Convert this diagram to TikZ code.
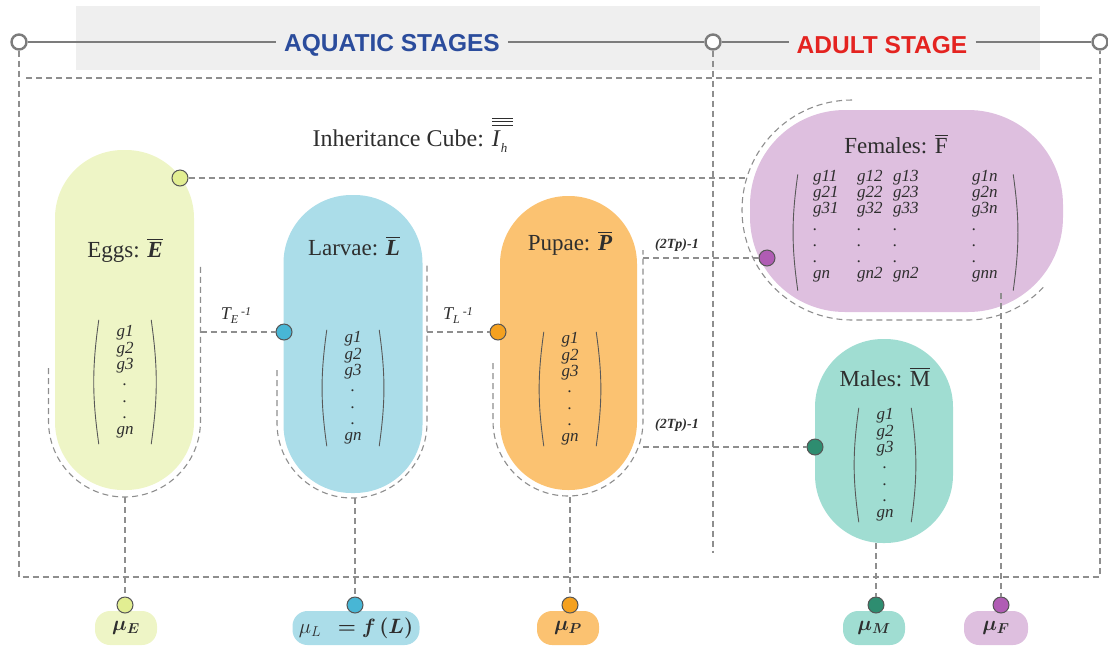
\documentclass[tikz,border=0pt]{standalone}
\usepackage{amsmath}
\usepackage{bm}
\usepackage{fontspec}
\setmainfont{Liberation Serif}
\newfontfamily\headfont{Liberation Sans}
\usetikzlibrary{calc}

\definecolor{bandgray}{HTML}{EFEFEF}
\definecolor{linegray}{HTML}{7C7C7C}
\definecolor{dashgray}{HTML}{8E8E8E}
\definecolor{ringgray}{HTML}{555555}
\definecolor{aquablue}{HTML}{2B4C9C}
\definecolor{adultred}{HTML}{E42320}
\definecolor{eggfill}{HTML}{EEF5C6}
\definecolor{eggdot}{HTML}{E2EE92}
\definecolor{larfill}{HTML}{ABDDE9}
\definecolor{lardot}{HTML}{48B6D5}
\definecolor{pupfill}{HTML}{FBC271}
\definecolor{pupdot}{HTML}{F5A11F}
\definecolor{femfill}{HTML}{DEBFDF}
\definecolor{femdot}{HTML}{B05CB4}
\definecolor{malfill}{HTML}{A0DDD2}
\definecolor{maldot}{HTML}{2E8D70}
\definecolor{inkdark}{HTML}{2E2E2E}

% three stacked bars over an italic letter
\newcommand\tribar[1]{\makebox[0pt][l]{\raisebox{21pt}{\rule{21pt}{0.9pt}}}%
  \makebox[0pt][l]{\raisebox{24.5pt}{\rule{21pt}{0.9pt}}}%
  \makebox[0pt][l]{\raisebox{28pt}{\rule{21pt}{0.9pt}}}\textit{#1}}

\begin{document}
\begin{tikzpicture}[x=1pt,y=-1pt,
  dashline/.style={draw=dashgray, line width=1.1pt, dash pattern=on 6pt off 4pt},
  headline/.style={draw=linegray, line width=1.8pt},
  headring/.style={circle, draw=linegray, line width=2.4pt, fill=white, minimum size=15pt, inner sep=0pt},
  stagebox/.style={inner sep=0pt, rounded corners=68pt, minimum width=139pt},
  title/.style={inner sep=0pt, text=inkdark, font=\fontsize{23}{26}\selectfont},
  colvec/.style={inner sep=0pt, align=center, minimum width=52pt, text=inkdark,
    font=\fontsize{17}{16.3}\selectfont\itshape},
  femcol/.style={inner sep=0pt, align=left, anchor=north west, text=inkdark,
    font=\fontsize{17}{16.2}\selectfont\itshape},
  paren/.style={draw=inkdark!80, line width=0.9pt},
  dot/.style={circle, draw=ringgray, line width=1pt, minimum size=16pt, inner sep=0pt},
  ratebox/.style={rounded corners=15pt, minimum height=34pt, inner sep=4pt, text=inkdark,
    font=\fontsize{22}{24}\selectfont},
  edgelabel/.style={inner sep=0pt, text=inkdark},
]
\useasboundingbox (0,0) rectangle (1108,649);

% ---- header band with the two stage headings ----
\fill[bandgray] (76,6) rectangle (1040,70);
\node[headring] (h1) at (19,42) {};
\node[headring] (h2) at (713,42) {};
\node[headring] (h3) at (1100,42) {};
\node[inner sep=8pt, text=aquablue, font=\headfont\bfseries\fontsize{24.5}{28}\selectfont] (aqua) at (392,45) {AQUATIC STAGES};
\node[inner sep=8pt, text=adultred, font=\headfont\bfseries\fontsize{24.5}{28}\selectfont] (adult) at (882,45) {ADULT STAGE};
\draw[headline] (h1) -- (h1 -| aqua.west);
\draw[headline] (h2 -| aqua.east) -- (h2);
\draw[headline] (h2) -- (h2 -| adult.west);
\draw[headline] (h3 -| adult.east) -- (h3);

% ---- dashed frame ----
\coordinate (fl) at (19,577);
\coordinate (fr) at (1100,577);
\coordinate (mid) at (713,553);
\draw[dashline] (h1.south) -- (fl) -- (fr) -- (h3.south);
\draw[dashline] (26,78) -- (1094,78);
\draw[dashline] (h2.south) -- (mid);

% ---- stage capsules ----
\node[stagebox, fill=eggfill, minimum height=340pt] (eggs) at (124.5,320) {};
\node[stagebox, fill=larfill, minimum height=298pt] (larvae) at (353,344) {};
\node[stagebox, fill=pupfill, minimum height=294pt, minimum width=137pt] (pupae) at (568.5,343) {};
\node[stagebox, fill=malfill, minimum height=204pt, minimum width=138pt] (males) at (884,441) {};
\node[inner sep=0pt, rounded corners=95pt, fill=femfill, minimum width=313pt, minimum height=202pt] (females) at (906.5,211) {};

% dashed outlines hugging the capsules
\draw[dashline] (48.5,368) -- (48.5,421) arc[start angle=180, end angle=360, radius=76pt] -- (200.5,265);
\draw[dashline] (277,370) -- (277,423) arc[start angle=180, end angle=360, radius=75pt] -- (427,265);
\draw[dashline] (493,363) -- (493,421) arc[start angle=180, end angle=360, radius=75pt] -- (643,250);
\draw[dashline] (852,100) arc[start angle=90, end angle=270, radius=110pt] -- (968,320)
  arc[start angle=270, end angle=318, radius=103pt];

% ---- titles ----
\node[inner sep=0pt, text=inkdark, font=\fontsize{24}{28}\selectfont] (cube) at (410,135)
  {Inheritance Cube: \tribar{I}\raisebox{-6pt}{\fontsize{13}{14}\selectfont\textit{h}}};
\node[title] (eggsT) at (125,250) {Eggs: $\overline{\textbf{\textit{E}}}$};
\node[title] (larT) at (354,246) {Larvae: $\overline{\textbf{\textit{L}}}$};
\node[title] (pupT) at (570,243) {Pupae: $\overline{\textbf{\textit{P}}}$};
\node[title] (femT) at (896,144) {Females: $\overline{\mbox{F}}$};
\node[title] (malT) at (885,377) {Males: $\overline{\mbox{M}}$};

% ---- gene vectors ----
\node[colvec, minimum height=124pt] (eggsV) at (125,382) {g1\\g2\\g3\\.\\.\\.\\gn};
\node[colvec, minimum height=116pt] (larV) at (353,388) {g1\\g2\\g3\\.\\.\\.\\gn};
\node[colvec, minimum height=114pt] (pupV) at (570,389) {g1\\g2\\g3\\.\\.\\.\\gn};
\node[colvec, minimum height=114pt] (malV) at (885,465) {g1\\g2\\g3\\.\\.\\.\\gn};
\foreach \v in {eggsV,larV,pupV,malV}{
  \draw[paren] (\v.north west) to[bend right=8] (\v.south west);
  \draw[paren] (\v.north east) to[bend left=8] (\v.south east);
}

% gene matrix of the females
\node[femcol] (fc1) at (813,170) {g11\\g21\\g31\\.\\.\\.\\gn};
\node[femcol] (fc2) at (857,170) {g12\\g22\\g32\\.\\.\\.\\gn2};
\node[femcol] (fc3) at (893,170) {g13\\g23\\g33\\.\\.\\.\\gn2};
\node[femcol] (fc4) at (972,170) {g1n\\g2n\\g3n\\.\\.\\.\\gnn};
\node[inner sep=0pt, minimum width=215pt, minimum height=116pt] (femM) at (905.5,232.5) {};
\draw[paren] (femM.north west) to[bend right=8] (femM.south west);
\draw[paren] (femM.north east) to[bend left=8] (femM.south east);

% ---- connector dots on the capsules ----
\node[dot, fill=eggdot] (eD) at (180,178) {};
\node[dot, fill=lardot] (lD) at (284,332) {};
\node[dot, fill=pupdot] (pD) at (498,332) {};
\node[dot, fill=femdot] (fD) at (767,258) {};
\node[dot, fill=maldot] (mD) at (815,447) {};

% ---- transitions ----
\coordinate (femArc) at (746,178);
\coordinate (eOut) at (200.5,332);
\coordinate (lOut) at (427,332);
\coordinate (pOutF) at (643,258);
\coordinate (pOutM) at (643,447);
\draw[dashline] (eD) -- (femArc);
\draw[dashline] (eOut) -- (lD);
\draw[dashline] (lOut) -- (pD);
\draw[dashline] (pOutF) -- (fD);
\draw[dashline] (pOutM) -- (mD);

\node[edgelabel, font=\fontsize{18}{20}\selectfont\itshape] (tE) at (236,316)
  {T\raisebox{-4pt}{\fontsize{12}{13}\selectfont E}\,\raisebox{4pt}{\fontsize{12}{13}\selectfont -1}};
\node[edgelabel, font=\fontsize{18}{20}\selectfont\itshape] (tL) at (458,316)
  {T\raisebox{-4pt}{\fontsize{12}{13}\selectfont L}\,\raisebox{4pt}{\fontsize{12}{13}\selectfont -1}};
\node[edgelabel, font=\fontsize{14}{16}\selectfont\bfseries\itshape] (tF) at (677,245) {(2Tp)-1};
\node[edgelabel, font=\fontsize{14}{16}\selectfont\bfseries\itshape] (tM) at (677,425) {(2Tp)-1};

% ---- mortality rates ----
\node[ratebox, fill=eggfill, minimum width=62pt] (muE) at (126,628) {$\bm{\mu_E}$};
\node[ratebox, fill=larfill, minimum width=127pt] (muL) at (356,628) {$\mu_L\ \ \bm{=f\,(L)}$};
\node[ratebox, fill=pupfill, minimum width=62pt] (muP) at (568,628) {$\bm{\mu_P}$};
\node[ratebox, fill=malfill, minimum width=62pt] (muM) at (874,628) {$\bm{\mu_M}$};
\node[ratebox, fill=femfill, minimum width=64pt] (muF) at (996,628) {$\bm{\mu_F}$};

\node[dot, fill=eggdot] (eR) at (125,605) {};
\node[dot, fill=lardot] (lR) at (355,605) {};
\node[dot, fill=pupdot] (pR) at (570,605) {};
\node[dot, fill=maldot] (mR) at (876,605) {};
\node[dot, fill=femdot] (fR) at (1001,605) {};

\coordinate (eBot) at (125,497);
\coordinate (lBot) at (355,498);
\coordinate (pBot) at (570,497);
\coordinate (fBot) at (1001,293);
\draw[dashline] (eBot) -- (eR);
\draw[dashline] (lBot) -- (lR);
\draw[dashline] (pBot) -- (pR);
\draw[dashline] (males.south -| mR) -- (mR);
\draw[dashline] (fBot) -- (fR);
\end{tikzpicture}
\end{document}
